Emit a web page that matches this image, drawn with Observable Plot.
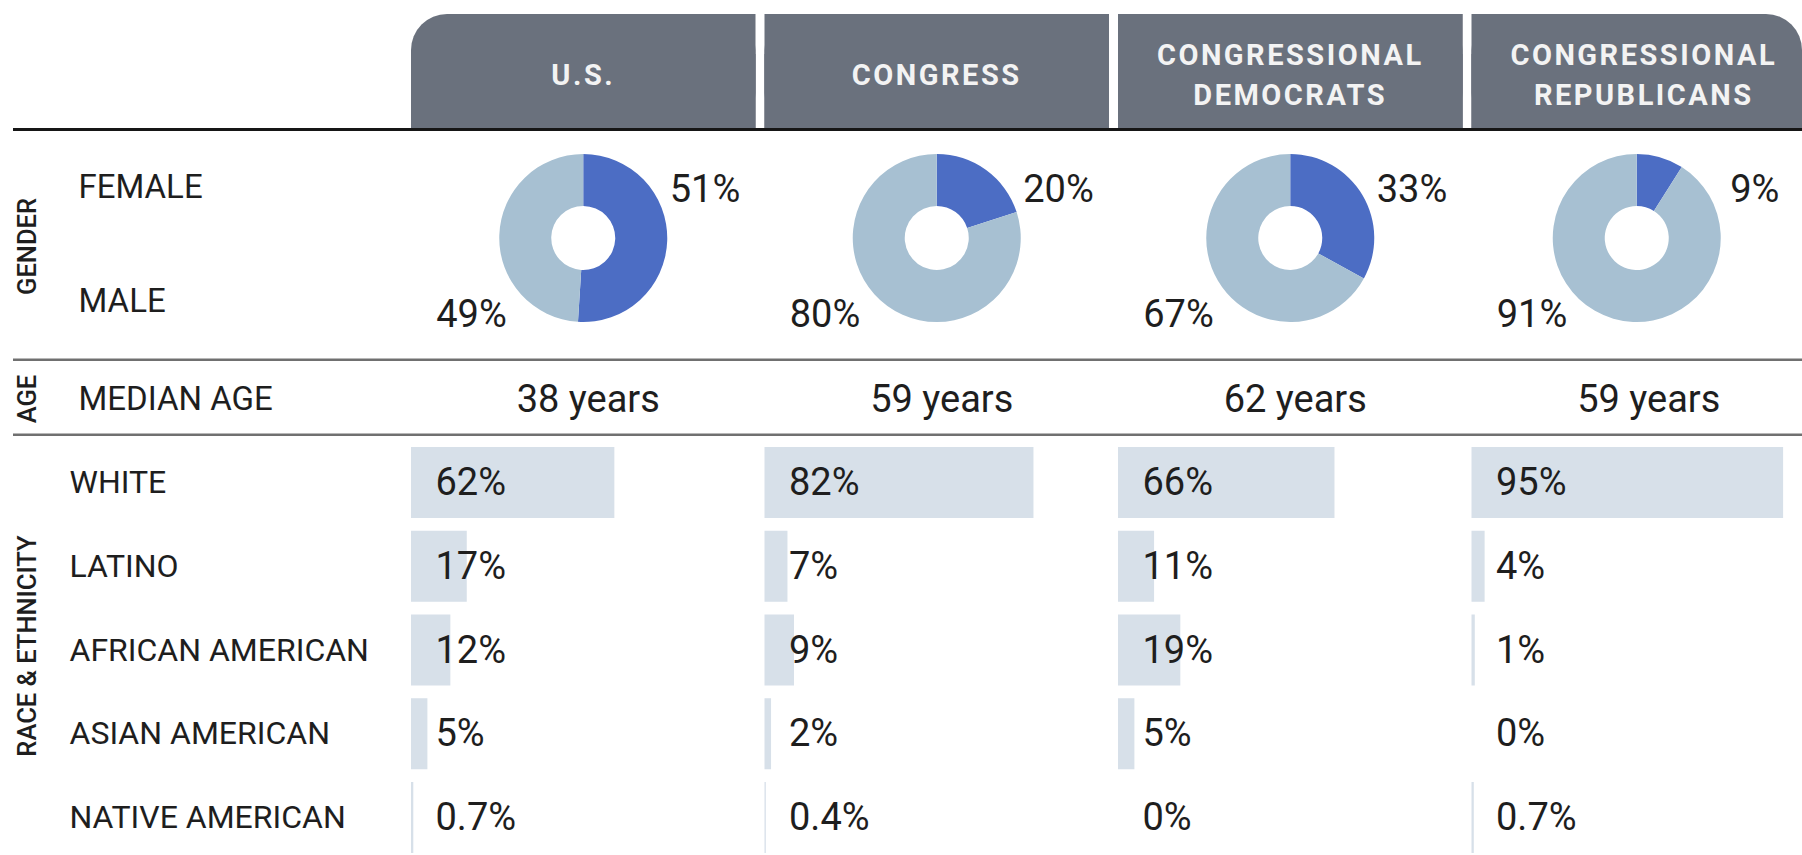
<!DOCTYPE html>
<html>
<head>
<meta charset="utf-8">
<script src="https://cdn.jsdelivr.net/npm/d3@7"></script>
<script src="https://cdn.jsdelivr.net/npm/@observablehq/plot@0.6"></script>
<style>
  html, body { margin: 0; padding: 0; background: #ffffff; }
  #chart { width: 1802px; height: 855px; overflow: hidden; background: #ffffff; }
  #chart svg { display: block; max-width: none; }
</style>
</head>
<body>
<div id="chart"></div>
<script>
// ---------- data ----------
const columns = ["U.S.", "CONGRESS", "CONGRESSIONAL\nDEMOCRATS", "CONGRESSIONAL\nREPUBLICANS"];
const genderRows = ["FEMALE", "MALE"];
const femalePct = [51, 20, 33, 9];
const malePct = [49, 80, 67, 91];
const medianAge = [38, 59, 62, 59];
const races = ["WHITE", "LATINO", "AFRICAN AMERICAN", "ASIAN AMERICAN", "NATIVE AMERICAN"];
const usRace = [62, 17, 12, 5, 0.7];
const congressRace = [82, 7, 9, 2, 0.4];
const demRace = [66, 11, 19, 5, 0];
const repRace = [95, 4, 1, 0, 0.7];

const raceByColumn = [usRace, congressRace, demRace, repRace];
const raceData = columns.flatMap((col, j) =>
  races.map((race, i) => ({col, race, value: raceByColumn[j][i]}))
);

// ---------- styles ----------
const W = 1802;
const FONT = "Roboto, 'Liberation Sans', 'DejaVu Sans', sans-serif";
const TAB = "#6a717d";
const FEMALE = "#4c6dc4";
const MALE = "#a7c0d2";
const BAR = "#d7e0e9";
const INK = "#1e1e1e";
const baseStyle = {fontFamily: FONT, background: "#ffffff", color: INK};
const xBand = {type: "band", domain: columns, range: [411, 1825], padding: 0, round: false, axis: null};

function bottomRule(color, width, x0 = 13) {
  return (index, scales, values, dims) => {
    const g = d3.create("svg:g");
    const y = dims.height - width / 2;
    g.append("line")
      .attr("x1", x0).attr("x2", dims.width)
      .attr("y1", y).attr("y2", y)
      .attr("stroke", color).attr("stroke-width", width);
    return g.node();
  };
}

const groupLabel = {frameAnchor: "left", textAnchor: "middle", rotate: -90, fontSize: 25.5, fontWeight: 500, fill: INK};

// ---------- header ----------
const header = Plot.plot({
  width: W, height: 131,
  marginTop: 14, marginBottom: 2, marginLeft: 0, marginRight: 0,
  x: xBand,
  style: {...baseStyle, letterSpacing: "2.5px"},
  marks: [
    Plot.cell(columns.slice(0, 3), {x: d => d, fill: TAB, insetRight: 9, rx: 36}),
    Plot.cell(columns.slice(3), {x: d => d, fill: TAB, insetRight: 23, rx: 36}),
    Plot.cell(columns, {x: d => d, fill: TAB, insetRight: 9, insetTop: 40}),
    Plot.cell(columns.slice(0, 3), {x: d => d, fill: TAB, insetRight: 9, insetLeft: 40}),
    Plot.cell(columns.slice(1, 3), {x: d => d, fill: TAB, insetRight: 9}),
    Plot.cell(columns.slice(3), {x: d => d, fill: TAB, insetRight: 59}),
    Plot.text(columns, {x: d => d, text: d => d, fill: "#f3f3f3", fontSize: 29, fontWeight: 700, lineHeight: 1.38, dx: -5}),
    bottomRule("#161616", 3)
  ]
});

// ---------- gender ----------
function donuts(index, scales, values, dims) {
  const g = d3.create("svg:g");
  const x = scales.x, y = scales.y;
  const bw = x.bandwidth ? x.bandwidth() : 353.5;
  const cy = (y("FEMALE") + y("MALE")) / 2 - 6;
  const arc = d3.arc().innerRadius(32).outerRadius(84);
  const pie = d3.pie().sort(null).value(d => d.v);
  columns.forEach((col, i) => {
    const x0 = x(col);
    const cx = x0 + Math.min(bw - 9, W - x0) / 2;
    const slices = pie([{k: "f", v: femalePct[i]}, {k: "m", v: malePct[i]}]);
    g.append("g")
      .attr("transform", `translate(${cx},${cy})`)
      .selectAll("path")
      .data(slices)
      .join("path")
      .attr("d", arc)
      .attr("fill", d => d.data.k === "f" ? FEMALE : MALE);
  });
  return g.node();
}

const gender = Plot.plot({
  width: W, height: 230, margin: 0,
  x: xBand,
  y: {type: "point", domain: genderRows, range: [56, 170], padding: 0, round: false, axis: null},
  style: baseStyle,
  marks: [
    Plot.text(["GENDER"], {text: d => d, dx: 27, ...groupLabel}),
    Plot.text(genderRows, {y: d => d, text: d => d, frameAnchor: "left", dx: 78, textAnchor: "start", fontSize: 33, fill: INK}),
    donuts,
    Plot.text(columns, {x: d => d, y: () => "FEMALE", text: (d, i) => femalePct[i] + "%", textAnchor: "start", dx: 81.5, dy: 2, fontSize: 38, fill: INK}),
    Plot.text(columns, {x: d => d, y: () => "MALE", text: (d, i) => malePct[i] + "%", textAnchor: "end", dx: -81.5, dy: 13, fontSize: 38, fill: INK}),
    bottomRule("#707070", 2.5)
  ]
});

// ---------- age ----------
const age = Plot.plot({
  width: W, height: 75, margin: 0,
  x: xBand,
  style: baseStyle,
  marks: [
    Plot.text(["AGE"], {text: d => d, dx: 27, ...groupLabel}),
    Plot.text(["MEDIAN AGE"], {text: d => d, frameAnchor: "left", dx: 78, textAnchor: "start", fontSize: 33, fill: INK}),
    Plot.text(columns, {x: d => d, text: (d, i) => medianAge[i] + " years", fontSize: 38, dy: 1, fill: INK}),
    bottomRule("#707070", 2.5)
  ]
});

// ---------- race & ethnicity ----------
const race = Plot.plot({
  width: W, height: 419, margin: 0,
  facet: {data: raceData, x: "col", marginTop: 0, marginRight: 0, marginBottom: 0, marginLeft: 0},
  fx: {domain: columns, range: [411, 1825], padding: 0, round: false, axis: null},
  x: {domain: [0, 100], range: [0, 328], axis: null},
  y: {type: "band", domain: races, range: [11, 417], paddingInner: 0.152, paddingOuter: 0, round: false, axis: null},
  style: baseStyle,
  marks: [
    Plot.barX(raceData, {x: "value", y: "race", fill: BAR}),
    Plot.text(raceData, {x: () => 0, y: "race", text: d => d.value + "%", textAnchor: "start", dx: 24, fontSize: 38, fill: INK}),
    Plot.text(raceData, {filter: d => d.col === columns[0], y: "race", text: "race", frameAnchor: "left", dx: -342, textAnchor: "start", fontSize: 32, fill: INK}),
    Plot.text(raceData, {filter: d => d.col === columns[0] && d.race === races[0], text: () => "RACE & ETHNICITY", dx: -384, ...groupLabel})
  ]
});

const chart = document.getElementById("chart");
[header, gender, age, race].forEach(p => chart.appendChild(p));
</script>
</body>
</html>
